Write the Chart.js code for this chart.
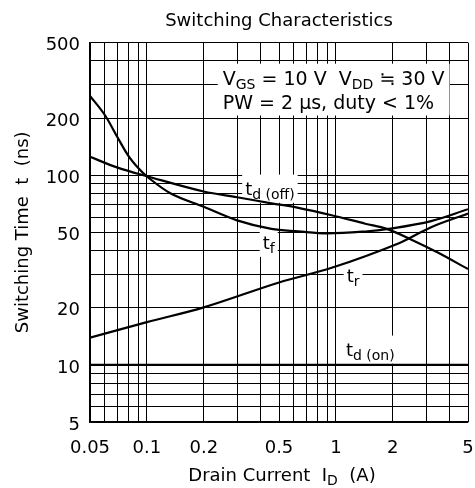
<!DOCTYPE html>
<html>
<head>
<meta charset="utf-8">
<script src="https://cdn.jsdelivr.net/npm/chart.js@4.4.0/dist/chart.umd.min.js"></script>
<style>
  html, body { margin: 0; padding: 0; background: #fff; }
  #wrap { width: 475px; height: 488px; }
</style>
</head>
<body>
<div id="wrap"><canvas id="switchChart" width="475" height="488"></canvas></div>
<script>
// ==========================================
// DATA
// ==========================================

// grid lines and labelled ticks, log-log axes
const xGridValues = [0.05, 0.06, 0.07, 0.08, 0.09, 0.1, 0.2, 0.3, 0.4, 0.5, 0.6, 0.7, 0.8, 0.9, 1, 2, 3, 4, 5];
const xTickLabels = [0.05, 0.1, 0.2, 0.5, 1, 2, 5];
const yGridValues = [5, 6, 7, 8, 9, 10, 20, 30, 40, 50, 60, 70, 80, 90, 100, 200, 300, 400, 500];
const yTickLabels = [5, 10, 20, 50, 100, 200, 500];

// drain current I_D (A) and switching time (ns) per curve
const tdOnCurrent = [0.05, 5];
const tdOnTime = [10, 10];

const trCurrent = [0.05, 0.1, 0.2, 0.5, 0.95, 2.14, 3.19, 5];
const trTime = [13.9, 16.8, 20.1, 27.2, 32.5, 43.7, 53.2, 62.8];

const tfCurrent = [0.05, 0.06, 0.07, 0.08, 0.09, 0.1, 0.133, 0.2, 0.3, 0.456, 0.633, 0.9, 1.43, 1.9, 3.19, 5];
const tfTime = [262, 207, 158, 126, 109, 98.5, 80.4, 68.1, 57.8, 52.1, 50.6, 49.4, 50.5, 52.1, 57.3, 66.2];

const tdOffCurrent = [0.05, 0.07, 0.1, 0.2, 0.3, 0.456, 0.633, 0.95, 1.43, 1.86, 2.51, 3.46, 5];
const tdOffTime = [125, 109.6, 98.8, 82.0, 76.5, 71.1, 67.3, 61.5, 55.5, 52.1, 45.7, 39.1, 32.0];

// ==========================================
// LABELS (text with subscripts, drawn by a small plugin)
// ==========================================

const FONT = '"DejaVu Sans", sans-serif';

// anchor = left end / baseline of the text, in data coordinates
const curveNotes = [
    { x: 0.331, y: 79,   parts: [{ text: 't', size: 18 }, { text: 'd (off)', size: 14, dy: 4 }] },
    { x: 0.41,  y: 41,   parts: [{ text: 't', size: 18 }, { text: 'f', size: 14, dy: 4 }] },
    { x: 1.14,  y: 27.3, parts: [{ text: 't', size: 18 }, { text: 'r', size: 14, dy: 4 }] },
    { x: 1.13,  y: 11.2, parts: [{ text: 't', size: 18 }, { text: 'd (on)', size: 14, dy: 4 }] }
];

const conditionLines = [
    { x: 0.252, y: 300, parts: [
        { text: 'V', size: 19 }, { text: 'GS', size: 14, dy: 4 },
        { text: ' = 10 V  V', size: 19 }, { text: 'DD', size: 14, dy: 4 },
        { text: ' \u2252 30 V', size: 19 }
    ] },
    { x: 0.252, y: 222, parts: [{ text: 'PW = 2 \u03bcs, duty < 1%', size: 19 }] }
];

const xTitleParts = [{ text: 'Drain Current  I', size: 18 }, { text: 'D', size: 14, dy: 4 }, { text: '  (A)', size: 18 }];
const yTitleParts = [{ text: 'Switching Time  t  (ns)', size: 18 }];

function partsWidth(ctx, parts) {
    let w = 0;
    parts.forEach(p => {
        ctx.font = p.size + 'px ' + FONT;
        w += ctx.measureText(p.text).width;
    });
    return w;
}

function drawParts(ctx, x, y, parts) {
    let cx = x;
    ctx.textBaseline = 'alphabetic';
    ctx.textAlign = 'left';
    parts.forEach(p => {
        ctx.font = p.size + 'px ' + FONT;
        ctx.fillText(p.text, cx, y + (p.dy || 0));
        cx += ctx.measureText(p.text).width;
    });
}

function noteBox(ctx, x, y, parts) {
    const w = partsWidth(ctx, parts);
    const sub = parts.find(p => p.dy);
    const bottom = sub ? y + sub.dy + sub.size * 0.3 : y + 5;
    return { left: x - 3, right: x + w + 3, top: y - 20, bottom: bottom };
}

const labelPlugin = {
    id: 'datasheetLabels',
    beforeDatasetsDraw(chart) {
        // white patches hide the grid behind the labels
        const ctx = chart.ctx;
        const xs = chart.scales.x, ys = chart.scales.y;
        ctx.save();
        ctx.fillStyle = '#fff';
        curveNotes.forEach(n => {
            const px = xs.getPixelForValue(n.x), py = ys.getPixelForValue(n.y);
            const b = noteBox(ctx, px, py, n.parts);
            ctx.fillRect(b.left, b.top, b.right - b.left, b.bottom - b.top);
        });
        const first = conditionLines[0], last = conditionLines[conditionLines.length - 1];
        const bx = xs.getPixelForValue(first.x);
        const by1 = ys.getPixelForValue(first.y), by2 = ys.getPixelForValue(last.y);
        const bw = Math.max(...conditionLines.map(l => partsWidth(ctx, l.parts)));
        ctx.fillRect(bx - 5, by1 - 21, bw + 10, by2 - by1 + 27);
        ctx.restore();
    },
    afterDatasetsDraw(chart) {
        const ctx = chart.ctx;
        const xs = chart.scales.x, ys = chart.scales.y;
        const area = chart.chartArea;
        ctx.save();
        ctx.fillStyle = '#000';
        curveNotes.concat(conditionLines).forEach(n => {
            drawParts(ctx, xs.getPixelForValue(n.x), ys.getPixelForValue(n.y), n.parts);
        });

        // axis titles
        const xw = partsWidth(ctx, xTitleParts);
        drawParts(ctx, (area.left + area.right) / 2 + 3 - xw / 2, 481, xTitleParts);

        const yw = partsWidth(ctx, yTitleParts);
        ctx.translate(28, (area.top + area.bottom) / 2);
        ctx.rotate(-Math.PI / 2);
        drawParts(ctx, -yw / 2, 0, yTitleParts);
        ctx.restore();
    }
};

// ==========================================
// CHART
// ==========================================

function toPoints(xs, ys) {
    return xs.map((x, i) => ({ x: x, y: ys[i] }));
}

function curve(label, xs, ys) {
    return {
        label: label,
        data: toPoints(xs, ys),
        borderColor: '#000',
        borderWidth: 2.2,
        pointRadius: 0,
        fill: false,
        tension: 0.35
    };
}

const gridStyle = { color: '#000', lineWidth: 1, drawTicks: false };

new Chart(document.getElementById('switchChart'), {
    type: 'line',
    data: {
        datasets: [
            curve('td(on)', tdOnCurrent, tdOnTime),
            curve('tr', trCurrent, trTime),
            curve('tf', tfCurrent, tfTime),
            curve('td(off)', tdOffCurrent, tdOffTime)
        ]
    },
    options: {
        responsive: false,
        animation: false,
        devicePixelRatio: 1,
        layout: { padding: { left: 0, right: 7, top: 0, bottom: 0 } },
        plugins: {
            legend: { display: false },
            tooltip: { enabled: false },
            title: {
                display: true,
                text: 'Switching Characteristics',
                fullSize: false,
                color: '#000',
                font: { family: FONT, size: 18, weight: 'normal' },
                padding: { top: 11, bottom: 10 }
            }
        },
        scales: {
            x: {
                type: 'logarithmic',
                min: 0.05,
                max: 5,
                grid: gridStyle,
                border: { color: '#000', width: 1.2 },
                afterBuildTicks: s => { s.ticks = xGridValues.map(v => ({ value: v })); },
                afterFit: s => { s.height = 66; s.paddingLeft = 0; s.paddingRight = 0; },
                ticks: {
                    autoSkip: false,
                    maxRotation: 0,
                    padding: 16,
                    color: '#000',
                    font: { family: FONT, size: 18 },
                    callback: v => xTickLabels.includes(v) ? String(v) : ''
                }
            },
            y: {
                type: 'logarithmic',
                min: 5,
                max: 500,
                grid: gridStyle,
                border: { color: '#000', width: 1.2 },
                afterBuildTicks: s => { s.ticks = yGridValues.map(v => ({ value: v })); },
                afterFit: s => { s.width = 90; s.paddingTop = 0; s.paddingBottom = 0; },
                ticks: {
                    autoSkip: false,
                    padding: 10,
                    labelOffset: 3,
                    color: '#000',
                    font: { family: FONT, size: 18 },
                    callback: v => yTickLabels.includes(v) ? String(v) : ''
                }
            }
        }
    },
    plugins: [labelPlugin]
});
</script>
</body>
</html>
